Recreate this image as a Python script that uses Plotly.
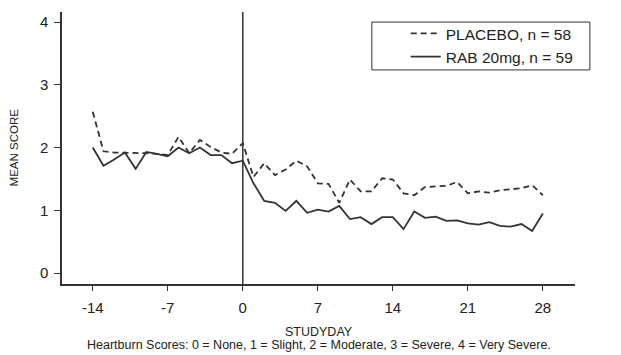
import plotly.graph_objects as go

days = list(range(-14, 29))
placebo = [2.57, 1.94, 1.92, 1.92, 1.91, 1.91, 1.90, 1.88, 2.17, 1.91, 2.12, 2.01, 1.92, 1.90,
           2.07, 1.53, 1.75, 1.56, 1.65, 1.79, 1.70, 1.43, 1.42, 1.12, 1.49, 1.30, 1.30, 1.51,
           1.49, 1.27, 1.24, 1.37, 1.38, 1.39, 1.45, 1.27, 1.30, 1.28, 1.32, 1.33, 1.35, 1.40, 1.24]
rab = [2.00, 1.71, 1.81, 1.92, 1.66, 1.93, 1.90, 1.86, 2.00, 1.91, 2.00, 1.88, 1.88, 1.75,
       1.79, 1.43, 1.15, 1.12, 0.99, 1.15, 0.96, 1.01, 0.98, 1.07, 0.86, 0.89, 0.78, 0.89,
       0.89, 0.70, 0.98, 0.88, 0.90, 0.83, 0.84, 0.79, 0.77, 0.81, 0.75, 0.74, 0.78, 0.67, 0.95]
x_ticks = [-14, -7, 0, 7, 14, 21, 28]
x_tick_labels = ["-14", "-7", "0", "7", "14", "21", "28"]
y_ticks = [0, 1, 2, 3, 4]

INK = "#333333"
TXT = "#222222"
FONT = "Liberation Sans, Arial, sans-serif"

fig = go.Figure()
fig.add_trace(go.Scatter(x=days, y=placebo, mode="lines", name="PLACEBO, n = 58",
                         line=dict(color=INK, width=1.8, dash="6px,4px")))
fig.add_trace(go.Scatter(x=days, y=rab, mode="lines", name="RAB 20mg, n = 59",
                         line=dict(color=INK, width=1.8)))

# vertical reference line at day 0
fig.add_shape(type="line", xref="x", yref="paper", x0=0, x1=0, y0=0, y1=1,
              line=dict(color=INK, width=1.5))
# legend frame
fig.add_shape(type="rect", xref="paper", yref="paper", x0=0.604, x1=1.029, y0=0.787, y1=0.963,
              line=dict(color=INK, width=1), fillcolor="rgba(0,0,0,0)", layer="below")

fig.update_layout(
    width=613, height=347,
    margin=dict(l=54, r=46, t=4, b=71),
    paper_bgcolor="white", plot_bgcolor="white",
    font=dict(family=FONT, color=TXT, size=15),
    showlegend=True,
    legend=dict(x=0.670, y=0.982, xanchor="left", yanchor="top",
                borderwidth=0, bgcolor="rgba(0,0,0,0)",
                font=dict(size=15.5, family=FONT, color=TXT),
                tracegroupgap=0),
    xaxis=dict(range=[-16.87, 31.0], tickvals=x_ticks, ticktext=x_tick_labels,
               showgrid=False, zeroline=False,
               showline=True, linecolor=INK, linewidth=1.5, ticks="outside", ticklen=5,
               tickcolor=INK, tickfont=dict(size=15), ticklabelstandoff=4),
    yaxis=dict(range=[-0.175, 4.16], tickvals=y_ticks, showgrid=False, zeroline=False,
               showline=True, linecolor=INK, linewidth=1.5, ticks="outside", ticklen=6,
               tickcolor=INK, tickfont=dict(size=15), ticklabelstandoff=3),
    annotations=[
        dict(text="MEAN SCORE", xref="paper", yref="paper", x=-0.0936, y=0.502,
             xanchor="center", yanchor="middle", textangle=-90, showarrow=False,
             font=dict(size=11.5, family=FONT, color=TXT)),
        dict(text="STUDYDAY", xref="paper", yref="paper", x=0.5, y=-0.178,
             xanchor="center", yanchor="middle", showarrow=False,
             font=dict(size=12.5, family=FONT, color=TXT)),
        dict(text="Heartburn Scores: 0 = None, 1 = Slight, 2 = Moderate, 3 = Severe, 4 = Very Severe.",
             xref="paper", yref="paper", x=0.5, y=-0.226, xanchor="center", yanchor="middle",
             showarrow=False, font=dict(size=12.5, family=FONT, color=TXT)),
    ],
)

fig.write_html("out.html")
